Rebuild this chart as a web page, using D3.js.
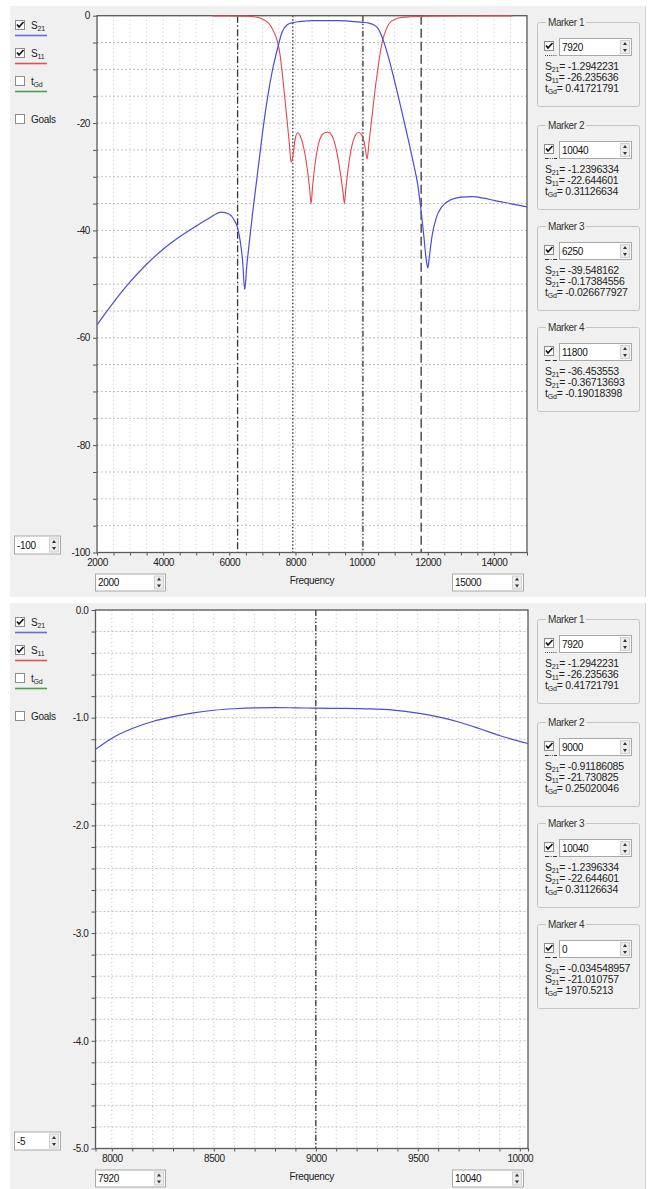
<!DOCTYPE html>
<html lang="en">
<head>
<meta charset="UTF-8">
<title>Filter response</title>
<style>
    body { margin: 0; background: #fff; }
    svg { display: block; font-family: "Liberation Sans", Arial, sans-serif; }
</style>
</head>
<body>
<svg id="chart"></svg>
<script src="https://d3js.org/d3.v7.min.js"></script>
<script>
    // wide sweep, 2000..15000
    var wideFreq = [2000, 2500, 3000, 3500, 4000, 4500, 5000, 5400, 5750, 6000, 6150, 6250, 6330, 6400, 6465, 6530, 6600, 6700,
        6800, 6900, 7000, 7150, 7300, 7450, 7600, 7750, 7920, 8100, 8300, 8500, 8700, 9000, 9300, 9500, 9700, 9900, 10040,
        10200, 10350, 10500, 10650, 10800, 10950, 11100, 11250, 11400, 11550, 11700, 11800, 11880, 11950, 12000, 12050,
        12130, 12250, 12450, 12700, 13000, 13350, 13700, 14000, 14500, 15000];
    var wideS21 = [-57.6, -53.4, -49.6, -46.3, -43.5, -41.2, -39.2, -37.7, -36.6, -37.0, -38.1, -39.5, -42.0, -45.5, -51.0, -46.5,
        -42.5, -37.0, -32.0, -27.0, -22.0, -15.5, -10.3, -6.3, -3.0, -1.7, -1.29, -1.10, -0.99, -0.93, -0.908, -0.912, -0.918,
        -0.953, -1.04, -1.165, -1.24, -1.35, -1.65, -2.4, -4.5, -7.5, -11.0, -14.8, -18.8, -22.8, -27.0, -31.6, -36.45, -41.0,
        -45.3, -47.0, -44.8, -41.0, -37.8, -35.4, -34.3, -33.8, -33.7, -34.0, -34.4, -35.0, -35.6];
    var wideS11Freq = [5500, 6000, 6500, 6800, 7000, 7150, 7262, 7360, 7460, 7540, 7613, 7716, 7815, 7867, 7920, 7990, 8067,
        8150, 8250, 8350, 8430, 8472, 8515, 8600, 8700, 8800, 8900, 8975, 9050, 9150, 9250, 9350, 9440, 9480, 9520, 9600,
        9700, 9800, 9880, 9934, 9990, 10040, 10100, 10166, 10220, 10280, 10336, 10410, 10488, 10560, 10639, 10740, 10841,
        11000, 11200, 11500, 12000, 13000, 14560];
    var wideS11 = [-0.05, -0.06, -0.1, -0.25, -0.6, -1.2, -2.0, -3.2, -4.9, -7.5, -11.4, -17.6, -23.8, -27.3, -26.24, -23.0,
        -21.8, -22.5, -24.6, -28.2, -32.3, -35.0, -32.0, -27.3, -23.8, -22.2, -21.75, -21.7, -21.9, -23.0, -25.4, -29.0,
        -33.0, -35.0, -32.5, -28.2, -24.4, -22.4, -21.8, -21.8, -22.1, -22.64, -24.3, -26.7, -23.8, -20.6, -17.6, -13.6,
        -10.1, -7.0, -4.5, -2.6, -1.4, -0.7, -0.35, -0.2, -0.1, -0.05, -0.03];

    // passband zoom, 7920..10040
    var zoomFreq = [7920, 8000, 8100, 8200, 8300, 8400, 8500, 8600, 8700, 8800, 8900, 9000, 9150, 9250, 9380, 9500, 9600,
        9700, 9800, 9900, 10040];
    var zoomS21 = [-1.294, -1.19, -1.10, -1.035, -0.99, -0.955, -0.931, -0.917, -0.909, -0.907, -0.908, -0.912, -0.914,
        -0.918, -0.93, -0.958, -0.993, -1.04, -1.10, -1.165, -1.24];

    var wideXLabels = [2000, 4000, 6000, 8000, 10000, 12000, 14000];
    var wideYLabels = [0, -20, -40, -60, -80, -100];
    var zoomXLabels = [8000, 8500, 9000, 9500, 10000];
    var zoomYLabels = [0, -1, -2, -3, -4, -5];

    var wideMarkers = [7920, 10040, 6250, 11800];
    var zoomMarkers = [7920, 9000, 10040, 0];
    var readoutSubs = [["21", "11", "Gd"], ["21", "11", "Gd"], ["21", "21", "Gd"], ["21", "21", "Gd"]];
    var wideReadout = [["-1.2942231", "-26.235636", "0.41721791"],
        ["-1.2396334", "-22.644601", "0.31126634"],
        ["-39.548162", "-0.17384556", "-0.026677927"],
        ["-36.453553", "-0.36713693", "-0.19018398"]];
    var zoomReadout = [["-1.2942231", "-26.235636", "0.41721791"],
        ["-0.91186085", "-21.730825", "0.25020046"],
        ["-1.2396334", "-22.644601", "0.31126634"],
        ["-0.034548957", "-21.010757", "1970.5213"]];

    var markerDash = ["1.5,2", "6,2,1.5,2,1.5,2", "7,2.5,1.5,2.5", "9,4"];
    var markerTop = [22, 125, 226, 327];

    var svg = d3.select("#chart").attr("width", 651).attr("height", 1189);

    function checkbox(g, x, y, checked) {
        g.append("rect").attr("x", x + 0.5).attr("y", y + 0.5).attr("width", 9).attr("height", 9)
            .attr("fill", "#fff").attr("stroke", "#8c8c8c");
        if (checked) {
            g.append("path").attr("d", "M" + (x + 2) + "," + (y + 4.5) + " l2,2.5 l4.5,-5")
                .attr("fill", "none").attr("stroke", "#111").attr("stroke-width", 1.6);
        }
    }

    function spinbox(g, x, y, w, h, text) {
        g.append("rect").attr("x", x + 0.5).attr("y", y + 0.5).attr("width", w).attr("height", h)
            .attr("fill", "#fff").attr("stroke", "#a8a8a8");
        g.append("rect").attr("x", x + w - 10.5).attr("y", y + 2.5).attr("width", 9).attr("height", h - 4)
            .attr("fill", "#ececec").attr("stroke", "#d0d0d0");
        var cx = x + w - 6, my = y + h / 2 + 0.5;
        g.append("path").attr("d", "M" + (cx - 2) + "," + (my - 2) + " l2,-3 l2,3z").attr("fill", "#333");
        g.append("path").attr("d", "M" + (cx - 2) + "," + (my + 2) + " l2,3 l2,-3z").attr("fill", "#333");
        g.append("text").attr("x", x + 3).attr("y", y + h - 4.5).attr("font-size", 10)
            .attr("letter-spacing", -0.3).attr("fill", "#111").text(text);
    }

    function subText(g, x, y, main, sub, rest, size) {
        size = size || 10;
        var t = g.append("text").attr("x", x).attr("y", y).attr("font-size", size)
            .attr("letter-spacing", -0.2).attr("fill", "#222");
        t.append("tspan").text(main);
        t.append("tspan").attr("font-size", 7).attr("dy", 2).text(sub);
        t.append("tspan").attr("dy", -2).text(rest);
    }

    function drawPanel(cfg) {
        var g = svg.append("g").attr("transform", "translate(0," + cfg.top + ")");
        g.append("rect").attr("x", 10).attr("y", 6).attr("width", 635).attr("height", 591).attr("fill", "#f0f0f0");
        g.append("line").attr("x1", 645.5).attr("x2", 645.5).attr("y1", 6).attr("y2", 597)
            .attr("stroke", "#d4d4d4");

        var x = d3.scaleLinear().domain(cfg.xDomain).range(cfg.xRange);
        var y = d3.scaleLinear().domain(cfg.yDomain).range(cfg.yRange);
        var x0 = cfg.xRange[0], x1 = cfg.xRange[1], y0 = cfg.yRange[1], y1 = cfg.yRange[0];

        var xGrid = d3.range(cfg.xGrid[0], cfg.xGrid[1] + cfg.xGrid[2] / 2, cfg.xGrid[2]);
        var yGrid = d3.range(0, cfg.yDomain[0] - cfg.yGrid / 2, -cfg.yGrid);

        g.append("rect").attr("x", x0).attr("y", y0).attr("width", x1 - x0).attr("height", y1 - y0)
            .attr("fill", "#fff");

        var clipId = "clip" + cfg.top;
        g.append("clipPath").attr("id", clipId).append("rect")
            .attr("x", x0).attr("y", y0 - 1).attr("width", x1 - x0).attr("height", y1 - y0 + 1);

        g.append("g").selectAll("line").data(xGrid).enter().append("line")
            .attr("x1", function (d) { return x(d); }).attr("x2", function (d) { return x(d); })
            .attr("y1", y0).attr("y2", y1)
            .attr("stroke", "#b8b8b8").attr("stroke-width", 0.8).attr("stroke-dasharray", "1,3");
        g.append("g").selectAll("line").data(yGrid).enter().append("line")
            .attr("x1", x0).attr("x2", x1)
            .attr("y1", function (d) { return y(d); }).attr("y2", function (d) { return y(d); })
            .attr("stroke", "#b0b0b0").attr("stroke-width", 0.8).attr("stroke-dasharray", "2,2");

        // marker lines
        var plot = g.append("g").attr("clip-path", "url(#" + clipId + ")");
        cfg.markers.forEach(function (m, i) {
            if (m <= cfg.xDomain[0] || m >= cfg.xDomain[1]) return;
            plot.append("line").attr("x1", x(m)).attr("x2", x(m)).attr("y1", y0).attr("y2", y1)
                .attr("stroke", "#333").attr("stroke-width", 1.3).attr("stroke-dasharray", markerDash[i]);
        });

        // axes
        var yAxis = d3.axisLeft(y).tickValues(yGrid).tickSize(4).tickPadding(3)
            .tickFormat(function (d) {
                var hit = cfg.yLabels.some(function (v) { return Math.abs(v - d) < 1e-6; });
                return hit ? cfg.yFmt(d) : "";
            });
        var ya = g.append("g").attr("transform", "translate(" + x0 + ",0)").call(yAxis);
        var xTicks = [cfg.xDomain[0]].concat(xGrid, [cfg.xDomain[1]]);
        var xAxis = d3.axisBottom(x).tickValues(xTicks).tickSize(3).tickPadding(3)
            .tickFormat(function (d) { return cfg.xLabels.indexOf(d) >= 0 ? String(d) : ""; });
        var xa = g.append("g").attr("transform", "translate(0," + y1 + ")").call(xAxis);
        [ya, xa].forEach(function (a) {
            a.select(".domain").remove();
            a.selectAll("line").attr("stroke", "#555");
            a.selectAll("text").attr("font-size", 10).attr("letter-spacing", -0.4).attr("fill", "#222")
                .attr("font-family", "Liberation Sans, Arial, sans-serif");
        });

        g.append("rect").attr("x", x0).attr("y", y0).attr("width", x1 - x0).attr("height", y1 - y0)
            .attr("fill", "none").attr("stroke", "#5a5a5a").attr("stroke-width", 1.3);

        // curves
        var line = d3.line().curve(d3.curveMonotoneX)
            .x(function (d) { return x(d[0]); }).y(function (d) { return y(d[1]); });
        var curves = g.append("g").attr("clip-path", "url(#" + clipId + ")");
        curves.append("path").datum(d3.zip(wideS11Freq, wideS11)).attr("d", line)
            .attr("fill", "none").attr("stroke", "#e2474c").attr("stroke-width", 1.1);
        curves.append("path").datum(d3.zip(cfg.s21Freq, cfg.s21)).attr("d", line)
            .attr("fill", "none").attr("stroke", "#4b4bdc").attr("stroke-width", 1.2);

        g.append("text").attr("x", (x0 + x1) / 2).attr("y", y1 + 31).attr("text-anchor", "middle")
            .attr("font-size", 10).attr("letter-spacing", -0.3).attr("fill", "#222").text("Frequency");

        spinbox(g, 95, y1 + 21, 70, 17, String(cfg.xDomain[0]));
        spinbox(g, 452, y1 + 21, 71, 17, String(cfg.xDomain[1]));
        spinbox(g, 14, y1 - 17, 46, 18, cfg.yMinText);

        // legend on the left
        var leg = [{sub: "21", col: "#6a6ae0", on: true, yy: 20}, {sub: "11", col: "#e25050", on: true, yy: 48},
            {sub: "Gd", col: "#4aa04a", on: false, yy: 76}];
        leg.forEach(function (d, i) {
            checkbox(g, 15, d.yy, d.on);
            subText(g, 31, d.yy + 9, i < 2 ? "S" : "t", d.sub, "");
            g.append("line").attr("x1", 15).attr("x2", 47).attr("y1", d.yy + 15.5).attr("y2", d.yy + 15.5)
                .attr("stroke", d.col).attr("stroke-width", 1.6);
        });
        checkbox(g, 15, 114, false);
        g.append("text").attr("x", 31).attr("y", 123).attr("font-size", 10).attr("letter-spacing", -0.3)
            .attr("fill", "#222").text("Goals");

        // marker readouts
        cfg.markers.forEach(function (m, i) {
            var T = markerTop[i];
            g.append("rect").attr("x", 537.5).attr("y", T + 0.5).attr("width", 102).attr("height", 84)
                .attr("fill", "none").attr("stroke", "#c4c4c4").attr("rx", 2);
            g.append("rect").attr("x", 546).attr("y", T - 5).attr("width", 40).attr("height", 10).attr("fill", "#f0f0f0");
            g.append("text").attr("x", 548).attr("y", T + 4).attr("font-size", 10).attr("letter-spacing", -0.4)
                .attr("fill", "#333").text("Marker " + (i + 1));
            checkbox(g, 544, T + 19, true);
            g.append("line").attr("x1", 545).attr("x2", 557).attr("y1", T + 33.5).attr("y2", T + 33.5)
                .attr("stroke", "#333").attr("stroke-width", 1.2)
                .attr("stroke-dasharray", markerDash[i].split(",").map(function (v) { return v * 0.6; }).join(","));
            spinbox(g, 559, T + 16, 72, 17, String(m));
            var subs = readoutSubs[i], vals = cfg.readout[i];
            subText(g, 545, T + 48, "S", subs[0], "= " + vals[0], 10.5);
            subText(g, 545, T + 59, "S", subs[1], "= " + vals[1], 10.5);
            subText(g, 545, T + 70, "t", subs[2], "= " + vals[2], 10.5);
        });
    }

    drawPanel({
        top: 0, xDomain: [2000, 15000], xRange: [97, 527], yDomain: [-100, 0], yRange: [552.5, 15.7],
        xGrid: [2500, 14500, 500], yGrid: 5, xLabels: wideXLabels, yLabels: wideYLabels,
        yFmt: function (d) { return String(d); }, yMinText: "-100",
        s21Freq: wideFreq, s21: wideS21, markers: wideMarkers, readout: wideReadout
    });
    drawPanel({
        top: 597, xDomain: [7920, 10040], xRange: [95.5, 528], yDomain: [-5, 0], yRange: [551.5, 13],
        xGrid: [8000, 10000, 100], yGrid: 0.2, xLabels: zoomXLabels, yLabels: zoomYLabels,
        yFmt: function (d) { return d.toFixed(1); }, yMinText: "-5",
        s21Freq: zoomFreq, s21: zoomS21, markers: zoomMarkers, readout: zoomReadout
    });
</script>
</body>
</html>
